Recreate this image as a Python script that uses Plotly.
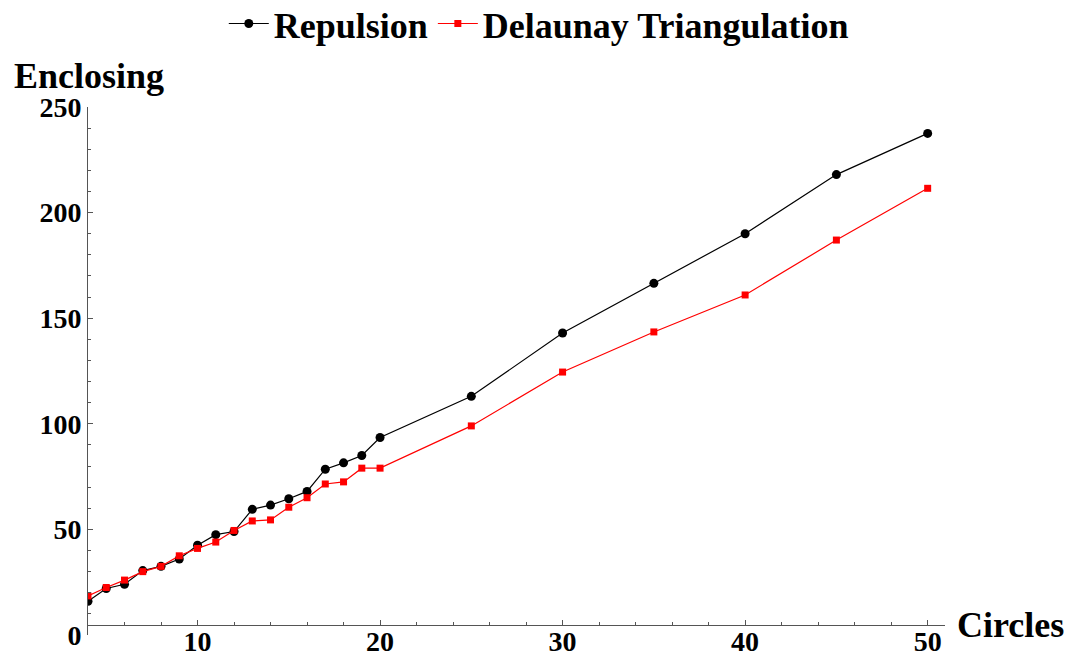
import plotly.graph_objects as go

circles = [4, 5, 6, 7, 8, 9, 10, 11, 12, 13, 14, 15, 16, 17, 18, 19, 20, 25, 30, 35, 40, 45, 50]
repulsion = [16, 22, 24, 30.5, 32.5, 36, 42.5, 47.5, 49, 59.5, 61.5, 64.5, 68, 78.5, 81.5, 85, 93.5,
             113, 143, 166.5, 190, 218, 237.5]
delaunay = [18.5, 22.5, 26, 30, 32.5, 37.5, 41, 44, 49.5, 54, 54.5, 60.5, 65, 71.5, 72.5, 79, 79,
            99, 124.5, 143.5, 161, 187, 211.5]

x_ticks = [10, 20, 30, 40, 50]
y_ticks = [0, 50, 100, 150, 200, 250]

FONT = "Liberation Serif"
AXIS_COLOR = "#555555"
X_AXIS_AT = 4.7  # y value where the horizontal axis crosses
Y_MAX = 250

fig = go.Figure()
fig.add_trace(go.Scatter(
    x=circles, y=repulsion, name="Repulsion", mode="lines+markers",
    line=dict(color="black", width=1.2),
    marker=dict(symbol="circle", size=9, color="black"),
))
fig.add_trace(go.Scatter(
    x=circles, y=delaunay, name="Delaunay Triangulation", mode="lines+markers",
    line=dict(color="#ff0000", width=1.2),
    marker=dict(symbol="square", size=7, color="#ff0000"),
))

# page body has an 8px margin, so the figure is sized/placed to compensate
fig.update_layout(
    width=1065, height=652,
    margin=dict(l=80, r=128, t=99, b=25, autoexpand=False),
    paper_bgcolor="white", plot_bgcolor="white",
    font=dict(family=FONT, color="black", size=28, weight="bold"),
    showlegend=True,
    legend=dict(
        orientation="h", x=0.526, xanchor="center", y=1.158, yanchor="middle",
        font=dict(family=FONT, size=36, color="black", weight="bold"),
        bgcolor="rgba(0,0,0,0)", itemwidth=40, tracegroupgap=0,
    ),
    xaxis=dict(
        range=[4, 50.95], tickvals=x_ticks, ticktext=[str(v) for v in x_ticks],
        showgrid=False, zeroline=False, showline=True, linecolor=AXIS_COLOR, linewidth=1,
        ticks="inside", ticklen=5, tickwidth=1, tickcolor=AXIS_COLOR,
        minor=dict(dtick=2, tick0=0, ticks="inside", ticklen=3, tickcolor=AXIS_COLOR, showgrid=False),
        anchor="free", position=X_AXIS_AT / Y_MAX,
        ticklabelstandoff=-9,
        tickfont=dict(family=FONT, size=28, color="black", weight="bold"),
    ),
    yaxis=dict(
        range=[0, Y_MAX], tickvals=y_ticks, ticktext=[str(v) for v in y_ticks],
        showgrid=False, zeroline=False, showline=True, linecolor=AXIS_COLOR, linewidth=1,
        ticks="inside", ticklen=5, tickwidth=1, tickcolor=AXIS_COLOR,
        minor=dict(dtick=10, tick0=0, ticks="inside", ticklen=3, tickcolor=AXIS_COLOR, showgrid=False),
        tickfont=dict(family=FONT, size=28, color="black", weight="bold"),
    ),
    annotations=[
        dict(text="Enclosing", xref="paper", yref="paper", x=0, y=1, xanchor="left", yanchor="bottom",
             xshift=-76, yshift=9, showarrow=False,
             font=dict(family=FONT, size=36, color="black", weight="bold")),
        dict(text="Circles", xref="paper", yref="paper", x=1, y=X_AXIS_AT / Y_MAX, xanchor="left",
             yanchor="middle", xshift=10, showarrow=False,
             font=dict(family=FONT, size=36, color="black", weight="bold")),
    ],
)

fig.write_html("out.html")
